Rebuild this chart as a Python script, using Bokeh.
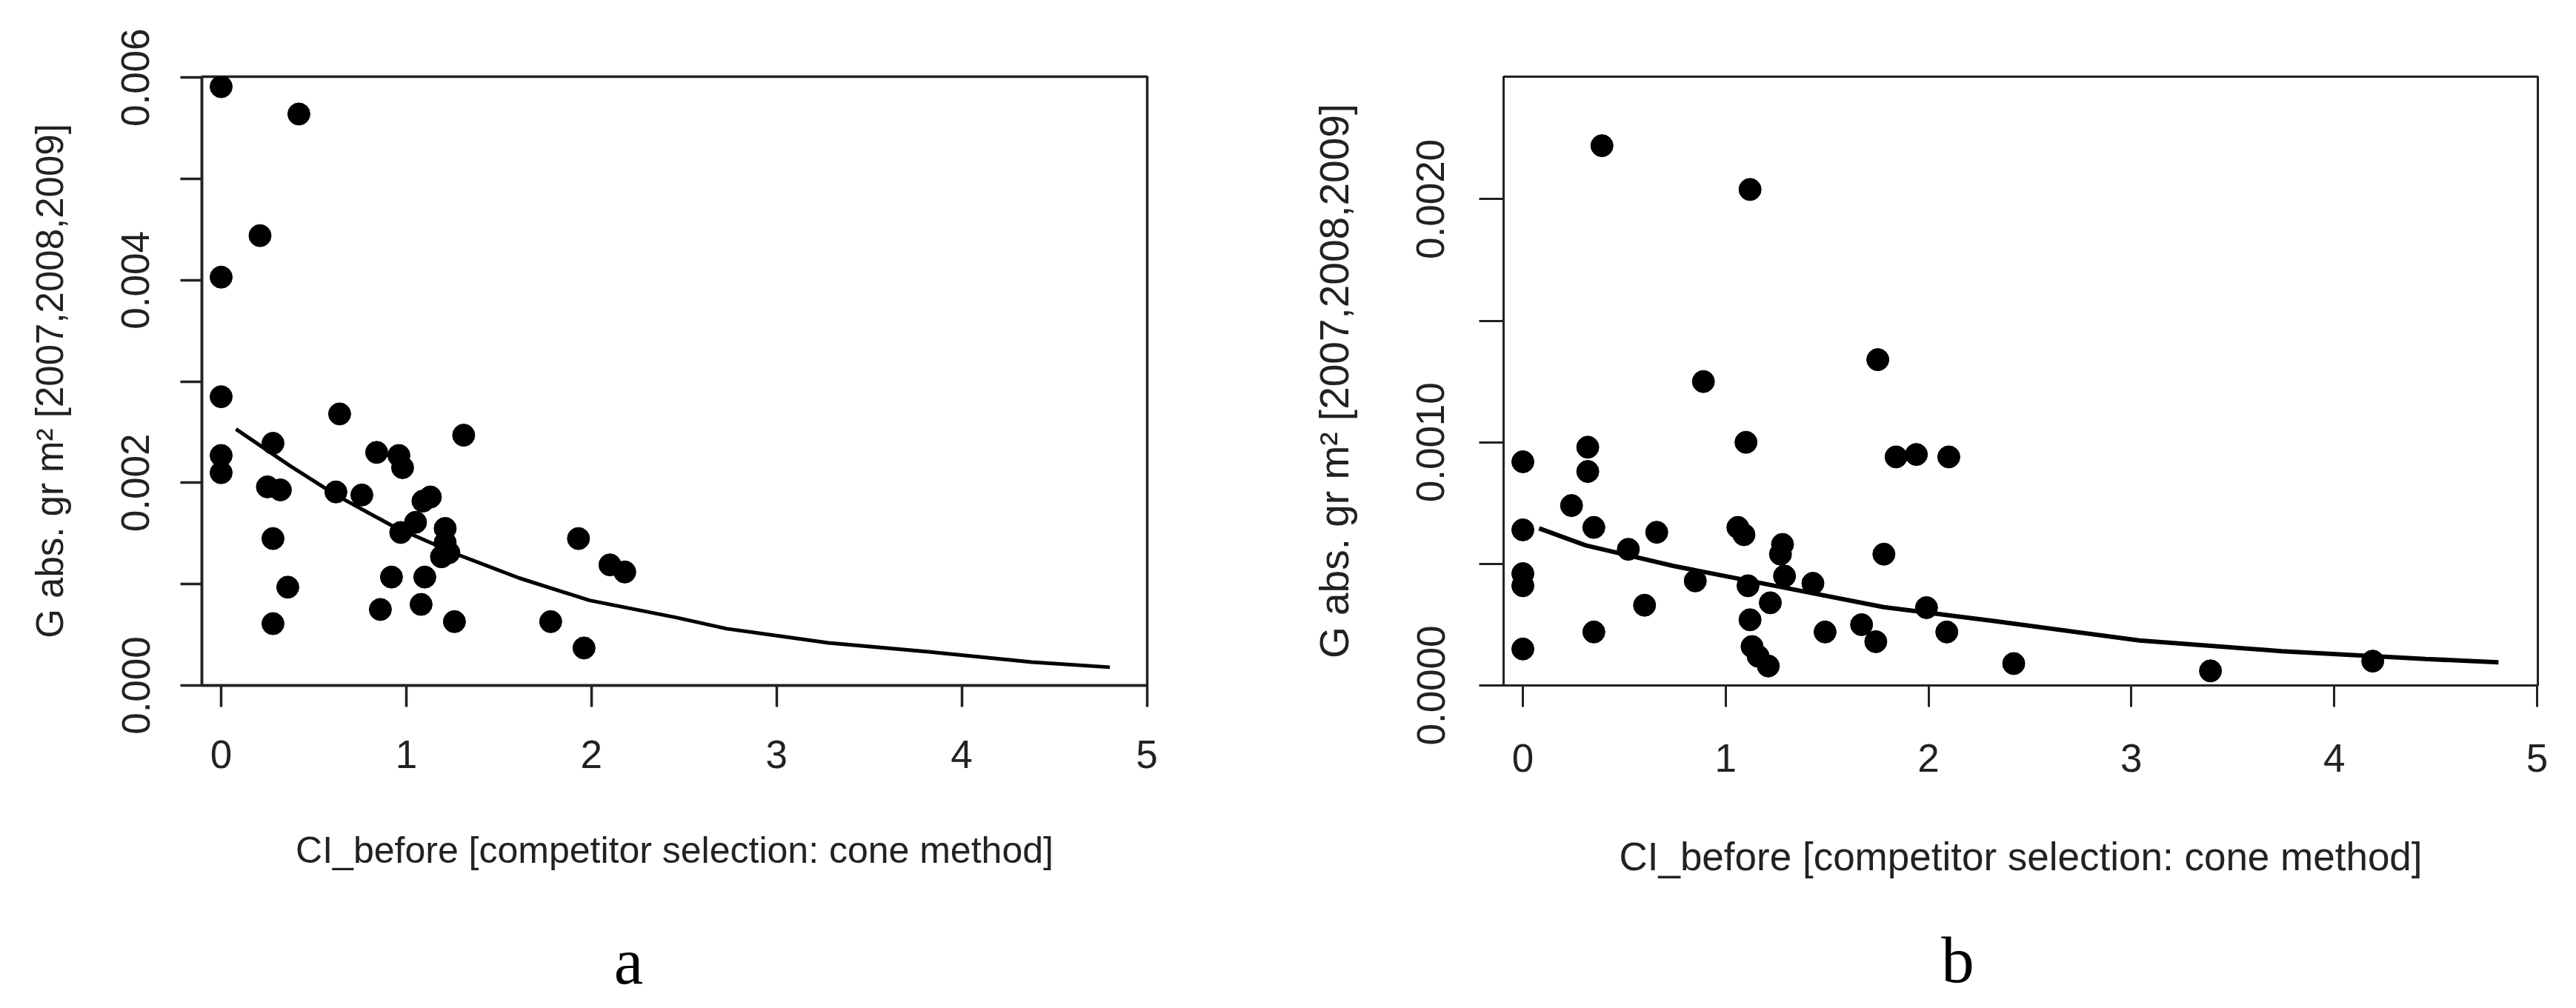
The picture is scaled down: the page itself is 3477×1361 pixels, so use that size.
from bokeh.plotting import figure
from bokeh.layouts import row, column
from bokeh.models import Range1d, FixedTicker
from bokeh.core.properties import value
from bokeh.embed import file_html
from bokeh.resources import INLINE

# ---------------- data: panel a ----------------
a_ci = [0.00, 0.42, 0.21, 0.00, 0.00, 0.64, 1.31, 0.28, 0.00, 0.00, 0.84, 0.96, 0.98,
        0.25, 0.32, 0.62, 0.76, 1.09, 1.13, 1.05, 0.97, 1.21, 1.21, 1.19, 1.23, 0.28,
        1.93, 2.10, 2.18, 0.36, 0.92, 1.10, 0.86, 1.08, 0.28, 1.26, 1.78, 1.96]
a_g = [0.00591, 0.00564, 0.00444, 0.00403, 0.00285, 0.00268, 0.00247, 0.00239, 0.00227,
       0.00210, 0.00230, 0.00227, 0.00215, 0.00196, 0.00193, 0.00191, 0.00188, 0.00182,
       0.00186, 0.00161, 0.00151, 0.00155, 0.00141, 0.00127, 0.00131, 0.00145, 0.00145,
       0.00119, 0.00112, 0.00097, 0.00107, 0.00107, 0.00075, 0.00080, 0.00061, 0.00063,
       0.00063, 0.00037]
a_fit_ci = [0.08, 0.37, 0.62, 0.93, 1.28, 1.61, 1.99, 2.46, 2.73, 3.28, 3.83, 4.38, 4.80]
a_fit_g = [0.00253, 0.00217, 0.00188, 0.00157, 0.00129, 0.00106, 0.00084, 0.00067,
           0.00056, 0.00042, 0.00033, 0.00023, 0.00018]
a_yticks = [0.0, 0.001, 0.002, 0.003, 0.004, 0.005, 0.006]
a_ylabels = ["0.000", "", "0.002", "", "0.004", "", "0.006"]

# ---------------- data: panel b ----------------
b_ci = [0.39, 1.12, 1.75, 0.89, 1.10, 0.00, 0.32, 0.32, 1.84, 1.94, 2.10, 0.24, 0.00,
        0.35, 0.66, 0.52, 1.06, 1.09, 1.28, 1.27, 1.78, 0.00, 0.00, 0.85, 1.11, 1.29,
        1.43, 1.22, 0.60, 1.99, 1.12, 0.35, 1.49, 1.67, 1.74, 2.09, 0.00, 1.13, 1.16,
        1.21, 2.42, 3.39, 4.19]
b_g = [0.00222, 0.00204, 0.00134, 0.00125, 0.00100, 0.00092, 0.00098, 0.00088, 0.00094,
       0.00095, 0.00094, 0.00074, 0.00064, 0.00065, 0.00063, 0.00056, 0.00065, 0.00062,
       0.00058, 0.00054, 0.00054, 0.00046, 0.00041, 0.00043, 0.00041, 0.00045, 0.00042,
       0.00034, 0.00033, 0.00032, 0.00027, 0.00022, 0.00022, 0.00025, 0.00018, 0.00022,
       0.00015, 0.00016, 0.00012, 0.00008, 0.00009, 0.00006, 0.00010]
b_fit_ci = [0.08, 0.31, 0.74, 1.26, 1.78, 2.33, 3.04, 3.74, 4.45, 4.81]
b_fit_g = [0.000646, 0.000576, 0.000492, 0.000407, 0.000322, 0.000264, 0.000185,
           0.000141, 0.000109, 0.000095]
b_yticks = [0.0, 0.0005, 0.001, 0.0015, 0.002]
b_ylabels = ["0.0000", "", "0.0010", "", "0.0020"]

x_ticks = [0, 1, 2, 3, 4, 5]
x_title = "CI_before [competitor selection: cone method]"
y_title = "G abs. gr m\u00b2 [2007,2008,2009]"
captions = ["a", "b"]

INK = "#222222"
FONT = "Liberation Sans"
TOP_H = 1225
CAP_H = 120


def panel(ci, g, fit_ci, fit_g, yticks, ylabels, cfg):
    p = figure(width=cfg["w"], height=TOP_H,
               x_range=Range1d(*cfg["xr"]), y_range=Range1d(*cfg["yr"]),
               output_backend="svg", toolbar_location=None,
               min_border_left=cfg["bl"], min_border_right=cfg["br"],
               min_border_top=cfg["bt"], min_border_bottom=TOP_H - cfg["bt"] - cfg["fh"])
    p.grid.visible = False
    p.background_fill_color = "white"
    p.border_fill_color = "white"
    p.outline_line_color = INK
    p.outline_line_width = cfg["lw"]

    p.scatter(ci, g, size=30, color="black", marker="circle")
    p.line(fit_ci, fit_g, line_color="black", line_width=cfg["fw"])

    xa = p.xaxis[0]
    ya = p.yaxis[0]
    xa.ticker = FixedTicker(ticks=x_ticks)
    ya.ticker = FixedTicker(ticks=yticks)
    ya.major_label_overrides = {t: l for t, l in zip(yticks, ylabels)}
    for ax in (xa, ya):
        ax.minor_tick_line_color = None
        ax.major_tick_in = 0
        ax.major_tick_line_color = INK
        ax.major_tick_line_width = cfg["lw"]
        ax.axis_line_color = INK
        ax.axis_line_width = cfg["lw"]
        ax.major_label_text_font = FONT
        ax.major_label_text_font_size = "53px"
        ax.major_label_text_color = INK
        ax.axis_label_text_font = FONT
        ax.axis_label_text_font_style = "normal"
        ax.axis_label_text_color = INK
    xa.major_tick_out = 29
    ya.major_tick_out = cfg["yto"]
    xa.major_label_standoff = cfg["xls"]
    ya.major_label_standoff = cfg["yls"]
    ya.major_label_orientation = "vertical"
    xa.axis_label = x_title
    ya.axis_label = y_title
    xa.axis_label_text_font_size = cfg["xfs"]
    ya.axis_label_text_font_size = cfg["yfs"]
    xa.axis_label_standoff = cfg["xas"]
    ya.axis_label_standoff = cfg["yas"]
    return p


def caption_fig(text, w, cx, cy):
    c = figure(width=w, height=CAP_H, x_range=Range1d(0, w), y_range=Range1d(0, CAP_H),
               output_backend="svg", toolbar_location=None,
               x_axis_type=None, y_axis_type=None,
               min_border_left=0, min_border_right=0, min_border_top=0, min_border_bottom=0)
    c.grid.visible = False
    c.outline_line_color = None
    c.background_fill_color = "white"
    c.border_fill_color = "white"
    c.text(x=[cx], y=[cy], text=[text], text_font=value("Liberation Serif"),
           text_font_size="89px", text_color="black", text_align="center",
           text_baseline="alphabetic")
    return c


pa = panel(a_ci, a_g, a_fit_ci, a_fit_g, a_yticks, a_ylabels,
           dict(w=1700, xr=(-0.104, 5.002), yr=(0.0, 0.006009), bl=272, br=152,
                bt=103, fh=822, lw=3.5, fw=5, yto=29, yls=42, yas=66,
                xls=45, xas=80, xfs="50px", yfs="51px"))
pb = panel(b_ci, b_g, b_fit_ci, b_fit_g, b_yticks, b_ylabels,
           dict(w=1760, xr=(-0.095, 5.004), yr=(0.0, 0.002504), bl=329, br=35,
                bt=74, fh=851, lw=3, fw=6, yto=33, yls=47, yas=78,
                xls=50, xas=82, xfs="53px", yfs="55px"))

ca = caption_fig(captions[0], 1700, 848, 48)
cb = caption_fig(captions[1], 1760, 942, 50)

layout = column(row(pa, pb, spacing=0), row(ca, cb, spacing=0), spacing=0)
open("out.html", "w").write(file_html(layout, INLINE))
